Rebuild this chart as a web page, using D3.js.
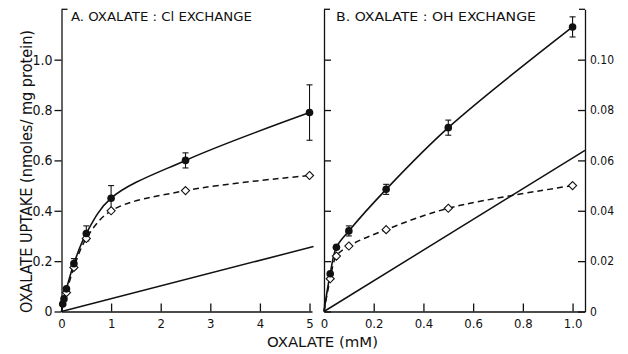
<!DOCTYPE html>
<html>
<head>
<meta charset="utf-8">
<script src="https://cdn.jsdelivr.net/npm/d3@7"></script>
<style>
  body { margin: 0; background: #fff; }
  svg text { font-family: "Liberation Sans Narrow", "DejaVu Sans Condensed", "Liberation Sans", Arial, sans-serif; fill: #111; }
</style>
</head>
<body>
<div id="chart"></div>
<script>
'use strict'

// panel A: oxalate : Cl exchange (nmoles/mg protein)
const aFilledX = [0.025, 0.05, 0.1, 0.25, 0.5, 1, 2.5, 5];
const aFilled = [0.03, 0.05, 0.09, 0.19, 0.31, 0.45, 0.60, 0.79];
const aFilledErr = [0, 0, 0, 0.02, 0.03, 0.05, 0.03, 0.11];
const aOpenX = [0.1, 0.25, 0.5, 1, 2.5, 5];
const aOpen = [0.075, 0.175, 0.29, 0.40, 0.48, 0.54];
const aBaseX = [0, 5.08];
const aBase = [0, 0.258];

// panel B: oxalate : OH exchange
const bX = [0.025, 0.05, 0.1, 0.25, 0.5, 1.0];
const bFilled = [0.015, 0.0255, 0.032, 0.0485, 0.073, 0.113];
const bFilledErr = [0, 0, 0.002, 0.002, 0.003, 0.004];
const bOpen = [0.013, 0.022, 0.026, 0.0325, 0.041, 0.050];
const bBaseX = [0, 1.05];
const bBase = [0, 0.064];

const aXTicks = [0, 1, 2, 3, 4, 5];
const aYTicks = [0, 0.2, 0.4, 0.6, 0.8, 1.0];
const bXTicks = [0, 0.2, 0.4, 0.6, 0.8, 1.0];
const bYTicks = [0, 0.02, 0.04, 0.06, 0.08, 0.10];

const width = 628;
const height = 354;

const svg = d3.select('#chart')
  .append('svg')
    .attr('width', width)
    .attr('height', height);

const y0 = 311.5;
const yTop = 9.3;

const xA = d3.scaleLinear().domain([0, 5.05]).range([61.5, 312]);
const yA = d3.scaleLinear().domain([0, 1.2]).range([y0, yTop]);
const xB = d3.scaleLinear().domain([0, 1.05]).range([324, 585]);
const yB = d3.scaleLinear().domain([0, 0.12]).range([y0, yTop]);

const fmt1 = d => d === 0 ? '0' : d3.format('.1f')(d);
const fmt2 = d => d === 0 ? '0' : d3.format('.2f')(d);

function styleAxis(g, size) {
  g.selectAll('path, line').attr('stroke', '#111').attr('stroke-width', 1.3);
  g.selectAll('text').style('font-size', size + 'px').attr('fill', '#111');
}

// panel A axes
svg.append('g')
  .attr('transform', 'translate(' + xA(0) + ',0)')
  .call(d3.axisLeft(yA).tickValues(aYTicks).tickFormat(fmt1).tickSize(7).tickSizeOuter(0).tickPadding(2))
  .call(g => styleAxis(g, 14));

svg.append('g')
  .attr('transform', 'translate(0,' + y0 + ')')
  .call(d3.axisBottom(xA).tickValues(aXTicks).tickFormat(d3.format('d')).tickSize(-8).tickSizeOuter(0).tickPadding(7))
  .call(g => styleAxis(g, 13));

// panel B axes
svg.append('g')
  .attr('transform', 'translate(' + xB(0) + ',0)')
  .call(d3.axisLeft(yB).tickValues(bYTicks).tickFormat('').tickSize(-7).tickSizeOuter(0))
  .call(g => styleAxis(g, 12));

svg.append('g')
  .attr('transform', 'translate(' + xB.range()[1] + ',0)')
  .call(d3.axisRight(yB).tickValues(bYTicks).tickFormat(fmt2).tickSize(-7).tickSizeOuter(0).tickPadding(5))
  .call(g => styleAxis(g, 12));

svg.append('g')
  .attr('transform', 'translate(0,' + y0 + ')')
  .call(d3.axisBottom(xB).tickValues(bXTicks).tickFormat(fmt1).tickSize(-8).tickSizeOuter(0).tickPadding(7))
  .call(g => styleAxis(g, 13));

// top corner brackets
const corners = [
  [xA(0), xA(0) + 6],
  [xB(0), xB(0) + 6],
  [xB.range()[1], xB.range()[1] - 6]
];
svg.selectAll('.corner')
  .data(corners)
  .enter()
  .append('line')
    .attr('x1', d => d[0])
    .attr('x2', d => d[1])
    .attr('y1', yTop)
    .attr('y2', yTop)
    .attr('stroke', '#111')
    .attr('stroke-width', 1.3);

// draws one panel's curves, markers and error bars
function drawPanel(x, y, filledX, filled, err, openX, open, baseX, base) {
  const curve = d3.line()
    .x(d => x(d[0]))
    .y(d => y(d[1]))
    .curve(d3.curveCatmullRom.alpha(0.5));
  const straight = d3.line()
    .x(d => x(d[0]))
    .y(d => y(d[1]));

  svg.append('path')
    .attr('d', straight(baseX.map((v, i) => [v, base[i]])))
    .attr('fill', 'none')
    .attr('stroke', '#111')
    .attr('stroke-width', 1.5);

  svg.append('path')
    .attr('d', curve([[0, 0]].concat(openX.map((v, i) => [v, open[i]]))))
    .attr('fill', 'none')
    .attr('stroke', '#111')
    .attr('stroke-width', 1.5)
    .attr('stroke-dasharray', '6,4');

  svg.append('path')
    .attr('d', curve([[0, 0]].concat(filledX.map((v, i) => [v, filled[i]]))))
    .attr('fill', 'none')
    .attr('stroke', '#111')
    .attr('stroke-width', 1.6);

  const bars = svg.append('g');
  filledX.forEach((v, i) => {
    if (!err[i]) return;
    const cx = x(v);
    const top = y(filled[i] + err[i]);
    const bot = y(filled[i] - err[i]);
    bars.append('line').attr('x1', cx).attr('x2', cx).attr('y1', top).attr('y2', bot);
    bars.append('line').attr('x1', cx - 3).attr('x2', cx + 3).attr('y1', top).attr('y2', top);
    bars.append('line').attr('x1', cx - 3).attr('x2', cx + 3).attr('y1', bot).attr('y2', bot);
  });
  bars.selectAll('line').attr('stroke', '#111').attr('stroke-width', 1.1);

  svg.append('g')
    .selectAll('path')
    .data(openX.map((v, i) => [v, open[i]]))
    .enter()
    .append('path')
      .attr('d', d3.symbol(d3.symbolDiamond2, 42))
      .attr('transform', d => 'translate(' + x(d[0]) + ',' + y(d[1]) + ')')
      .attr('fill', '#fff')
      .attr('stroke', '#111')
      .attr('stroke-width', 1.1);

  svg.append('g')
    .selectAll('circle')
    .data(filledX.map((v, i) => [v, filled[i]]))
    .enter()
    .append('circle')
      .attr('cx', d => x(d[0]))
      .attr('cy', d => y(d[1]))
      .attr('r', 3.8)
      .attr('fill', '#111');
}

drawPanel(xA, yA, aFilledX, aFilled, aFilledErr, aOpenX, aOpen, aBaseX, aBase);
drawPanel(xB, yB, bX, bFilled, bFilledErr, bX, bOpen, bBaseX, bBase);

// titles and axis labels
svg.append('text')
  .attr('x', 71)
  .attr('y', 21)
  .attr('textLength', 181)
  .attr('lengthAdjust', 'spacingAndGlyphs')
  .style('font-size', '13px')
  .text('A. OXALATE : Cl EXCHANGE');

svg.append('text')
  .attr('x', 336)
  .attr('y', 21)
  .attr('textLength', 200)
  .attr('lengthAdjust', 'spacingAndGlyphs')
  .style('font-size', '13px')
  .text('B. OXALATE : OH EXCHANGE');

svg.append('text')
  .attr('x', 267)
  .attr('y', 347)
  .attr('textLength', 111)
  .attr('lengthAdjust', 'spacingAndGlyphs')
  .style('font-size', '14px')
  .text('OXALATE (mM)');

svg.append('text')
  .attr('transform', 'translate(32,313) rotate(-90)')
  .attr('textLength', 283)
  .attr('lengthAdjust', 'spacingAndGlyphs')
  .style('font-size', '15px')
  .text('OXALATE  UPTAKE (nmoles/ mg protein)');
</script>
</body>
</html>
